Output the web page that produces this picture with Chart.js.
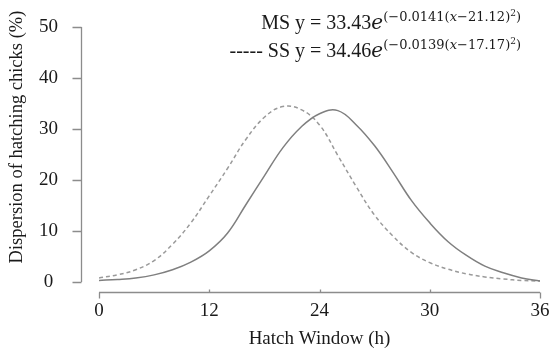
<!DOCTYPE html>
<html>
<head>
<meta charset="utf-8">
<script src="https://cdn.jsdelivr.net/npm/chart.js@4/dist/chart.umd.min.js"></script>
<style>
  html, body { margin: 0; padding: 0; background: #fff; }
  canvas { display: block; }
</style>
</head>
<body>
<canvas id="hatchChart" width="550" height="352"></canvas>
<script>
// positions along the hatch window axis (axis units, labels are printed separately)
const windowPos = [0, 1.5, 3, 4.5, 6, 7.5, 9, 10.5, 12, 13.5, 15, 16.5, 18, 19.5, 21, 22.5, 24, 25.5, 27, 28.5, 30, 31.5, 33, 34.5, 36];
const msValues  = [0.3, 0.5, 0.8, 1.4, 2.4, 3.9, 6.1, 9.6, 15.2, 20.8, 26.3, 30.4, 33.0, 33.6, 30.8, 26.7, 21.5, 16.0, 11.6, 7.9, 5.2, 3.1, 1.8, 0.8, 0.2];
const ssValues  = [0.8, 1.4, 2.4, 4.2, 7.4, 11.6, 16.9, 22.3, 28.0, 32.3, 34.4, 33.8, 30.8, 24.8, 18.7, 13.1, 9.0, 5.8, 3.8, 2.5, 1.6, 1.0, 0.6, 0.3, 0.2];

const xTickPos    = [0, 9, 18, 27, 36];
const xTickLabels = ['0', '12', '24', '30', '36'];
const yTicks      = [0, 10, 20, 30, 40, 50];

const msNote = { lead: 'MS', coef: '33.43', rate: '0.0141', shift: '21.12' };
const ssNote = { lead: '----- SS', coef: '34.46', rate: '0.0139', shift: '17.17' };

const serif = '"Liberation Serif", "Times New Roman", serif';
const mathFont = '"DejaVu Serif", serif';
const textColor = '#1a1a1a';
const axisColor = '#8c8c8c';

// draws one equation line, right aligned at xRight
function drawEquation(ctx, note, xRight, baseY) {
  const parts = [
    { t: note.lead + ' y = ' + note.coef, f: '20px ' + serif, dy: 0 },
    { t: 'e', f: 'italic 20px ' + mathFont, dy: 0 },
    { t: '(\u2212' + note.rate + '(', f: '13px ' + mathFont, dy: -8 },
    { t: 'x', f: 'italic 13px ' + mathFont, dy: -8 },
    { t: '\u2212' + note.shift + ')', f: '13px ' + mathFont, dy: -8 },
    { t: '2', f: '9px ' + mathFont, dy: -13 },
    { t: ')', f: '13px ' + mathFont, dy: -8 }
  ];
  let total = 0;
  parts.forEach(p => { ctx.font = p.f; p.w = ctx.measureText(p.t).width; total += p.w; });
  let x = xRight - total;
  ctx.textAlign = 'left';
  ctx.textBaseline = 'alphabetic';
  parts.forEach(p => {
    ctx.font = p.f;
    ctx.fillText(p.t, x, baseY + p.dy);
    x += p.w;
  });
}

const axesAndNotes = {
  id: 'axesAndNotes',
  afterDraw(chart) {
    const ctx = chart.ctx;
    const xs = chart.scales.x, ys = chart.scales.y;
    const y0 = ys.getPixelForValue(0);

    ctx.save();
    ctx.strokeStyle = axisColor;
    ctx.lineWidth = 1.3;

    // vertical axis, set off to the left of the plot
    const ax = Math.round(xs.left - 18) + 0.5;
    ctx.beginPath();
    ctx.moveTo(ax, ys.getPixelForValue(50));
    ctx.lineTo(ax, y0);
    yTicks.forEach(v => {
      const py = Math.round(ys.getPixelForValue(v)) + 0.5;
      ctx.moveTo(ax - 9, py);
      ctx.lineTo(ax, py);
    });
    ctx.stroke();

    // horizontal axis, set off below the plot
    const ay = Math.round(y0 + 10) + 0.5;
    const first = xs.getPixelForValue(xTickPos[0]);
    const last = xs.getPixelForValue(xTickPos[xTickPos.length - 1]);
    ctx.beginPath();
    ctx.moveTo(first, ay);
    ctx.lineTo(last, ay);
    xTickPos.forEach((v, i) => {
      const px = Math.round(xs.getPixelForValue(v)) + 0.5;
      if (i === 0 || i === xTickPos.length - 1) {
        ctx.moveTo(px, ay);
        ctx.lineTo(px, ay + 6);
      } else {
        ctx.moveTo(px, ay);
        ctx.lineTo(px, ay - 3);
      }
    });
    ctx.stroke();

    // y axis title
    ctx.fillStyle = textColor;
    ctx.save();
    ctx.translate(17, 137);
    ctx.rotate(-Math.PI / 2);
    ctx.font = '18.5px ' + serif;
    ctx.textAlign = 'center';
    ctx.textBaseline = 'middle';
    ctx.fillText('Dispersion of hatching chicks (%)', 0, 0);
    ctx.restore();

    // fitted equations
    drawEquation(ctx, msNote, 521, 29);
    drawEquation(ctx, ssNote, 521, 57);
    ctx.restore();
  }
};

new Chart(document.getElementById('hatchChart').getContext('2d'), {
  type: 'line',
  data: {
    datasets: [
      {
        label: 'MS',
        data: windowPos.map((x, i) => ({ x: x, y: msValues[i] })),
        borderColor: '#7f7f7f',
        borderWidth: 1.5,
        pointRadius: 0,
        tension: 0.4
      },
      {
        label: 'SS',
        data: windowPos.map((x, i) => ({ x: x, y: ssValues[i] })),
        borderColor: '#9a9a9a',
        borderWidth: 1.5,
        borderDash: [4, 3],
        pointRadius: 0,
        tension: 0.4
      }
    ]
  },
  options: {
    responsive: false,
    animation: false,
    layout: { padding: { top: 27, right: 10, left: 0, bottom: 0 } },
    plugins: { legend: { display: false }, tooltip: { enabled: false } },
    scales: {
      x: {
        type: 'linear',
        min: 0,
        max: 36,
        grid: { display: false, drawTicks: false },
        border: { display: false },
        afterBuildTicks: scale => { scale.ticks = xTickPos.map(v => ({ value: v })); },
        afterFit: scale => {
          scale.height = 70;
          scale.paddingLeft = 0;
          scale.paddingRight = 0;
        },
        ticks: {
          autoSkip: false,
          maxRotation: 0,
          padding: 18,
          color: textColor,
          font: { family: serif, size: 19 },
          callback: (v, i) => xTickLabels[i]
        },
        title: {
          display: true,
          text: 'Hatch Window (h)',
          color: textColor,
          font: { family: serif, size: 19 },
          padding: { top: 0, bottom: 2 }
        }
      },
      y: {
        min: 0,
        max: 50,
        grid: { display: false, drawTicks: false },
        border: { display: false },
        afterBuildTicks: scale => { scale.ticks = yTicks.map(v => ({ value: v })); },
        afterFit: scale => {
          scale.width = 99;
          scale.paddingTop = 0;
          scale.paddingBottom = 0;
        },
        ticks: {
          crossAlign: 'center',
          padding: 41,
          color: textColor,
          font: { family: serif, size: 19 }
        }
      }
    }
  },
  plugins: [axesAndNotes]
});
</script>
</body>
</html>
